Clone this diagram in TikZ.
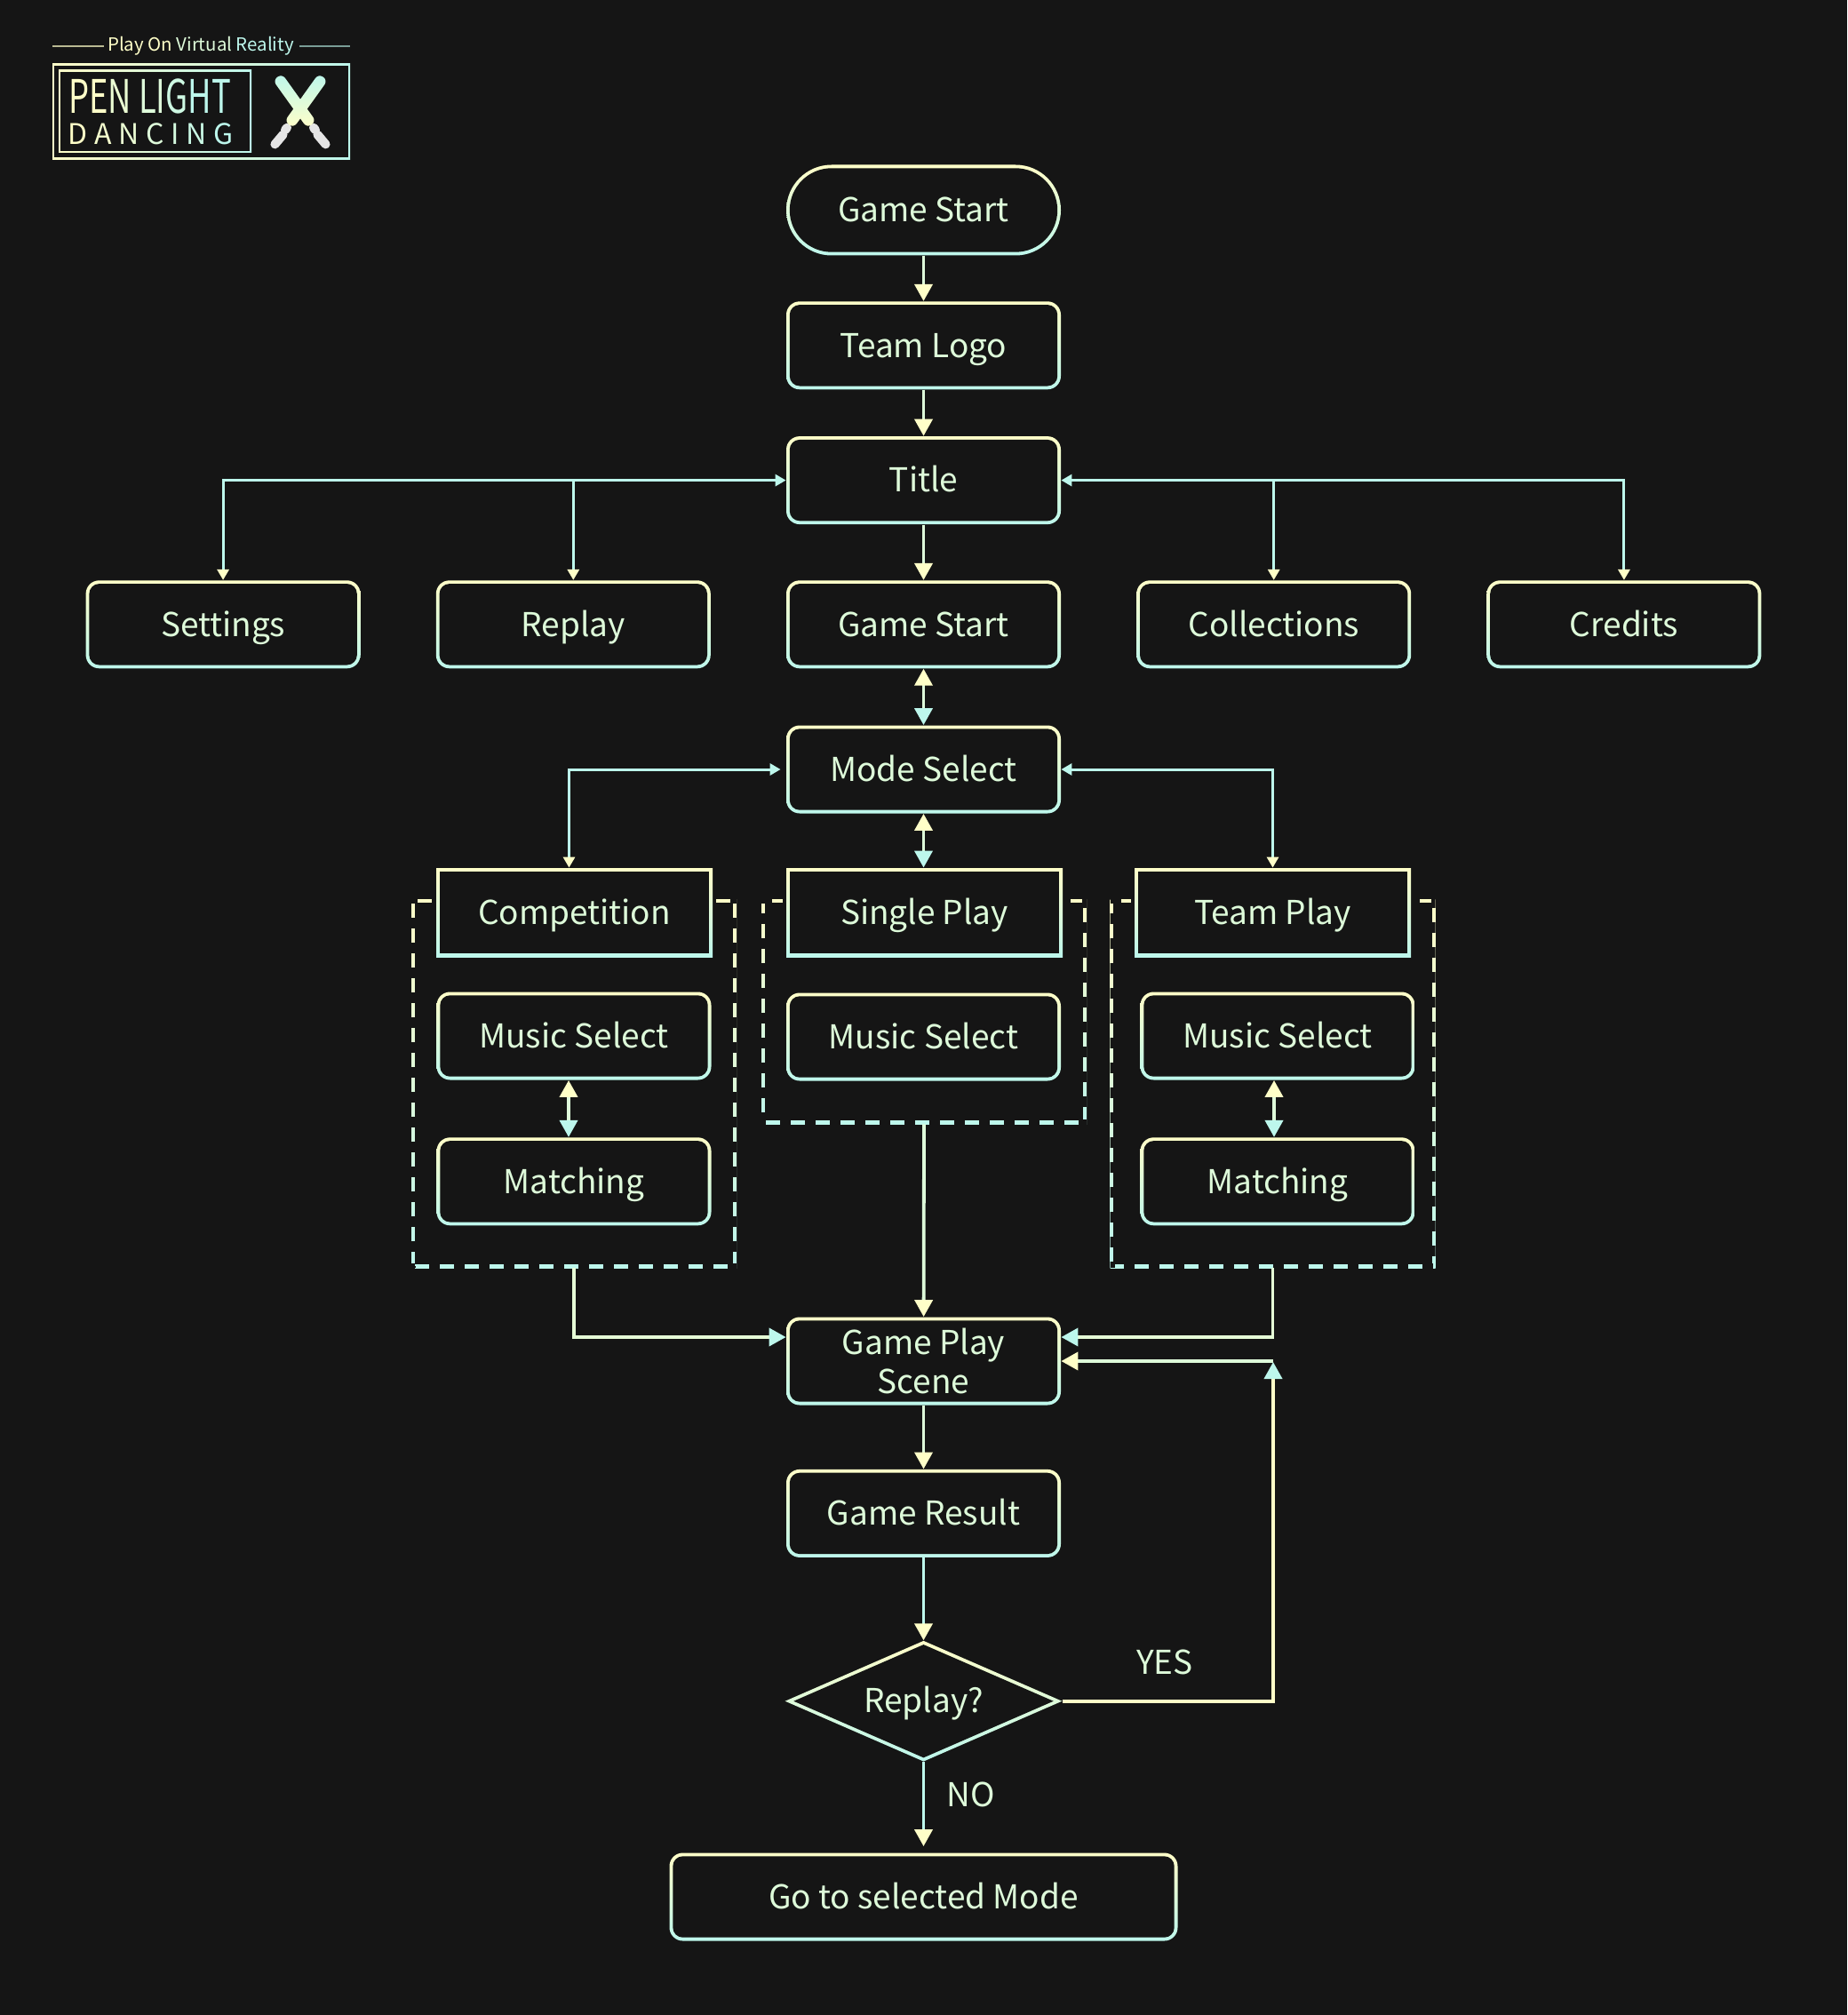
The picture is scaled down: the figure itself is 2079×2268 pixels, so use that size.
\documentclass[tikz,border=0pt]{standalone}
\usepackage{fontspec}
\setmainfont{Noto Sans CJK KR}
\usetikzlibrary{positioning,shapes.geometric,arrows.meta}

\definecolor{bgc}{HTML}{151515}
\definecolor{yl}{HTML}{FFFFC8}
\definecolor{aq}{HTML}{BDF7EC}
\colorlet{txtc}{yl!50!aq}
\newcommand{\pb}{path picture bounding box}
\newcommand{\bodyfont}{\fontsize{18.5}{21.7}\selectfont}

\tikzset{
	hollow/.style 2 args={path picture={\fill[bgc,rounded corners=#2]
		([shift={(#1,#1)}]\pb.south west) rectangle ([shift={(-#1,-#1)}]\pb.north east);}},
	flowbox/.style={minimum width=154.5pt, minimum height=49.5pt, inner sep=0pt, rounded corners=7.5pt,
		top color=yl, bottom color=aq, hollow={1.9pt}{5.6pt}, text=txtc, font=\bodyfont, align=center,
		text height=17pt, text depth=3.8pt},
	pill/.style={flowbox, minimum height=51pt, rounded corners=25.5pt, hollow={1.9pt}{23.6pt}},
	headbox/.style={flowbox, minimum width=155.5pt, minimum height=50pt, rounded corners=0pt,
		hollow={1.9pt}{0pt}, preaction={draw=bgc, line width=4pt}},
	groupbox/.style={minimum width=183pt, inner sep=0pt, top color=yl, bottom color=aq,
		path picture={\fill[bgc] ([shift={(1.8pt,1.8pt)}]\pb.south west) rectangle ([shift={(-1.8pt,-1.8pt)}]\pb.north east);
			\draw[bgc, line width=5pt, dash pattern=on 6pt off 8pt, dash phase=#1] (\pb.south west) rectangle (\pb.north east);}},
	ask/.style={diamond, aspect=2.32, minimum width=156pt, minimum height=68pt, inner sep=0pt,
		top color=yl, bottom color=aq, text=txtc, font=\bodyfont, text height=17pt, text depth=3.8pt,
		path picture={\fill[bgc] ([xshift=4.8pt]\pb.west) -- ([yshift=-2.1pt]\pb.north)
			-- ([xshift=-4.8pt]\pb.east) -- ([yshift=2.1pt]\pb.south) -- cycle;}},
	flow/.style 2 args={draw=#1, line width=1.9pt, -{Triangle[length=9.5pt,width=10pt,color=#2]}},
	both/.style 2 args={draw=yl!50!aq, line width=1.9pt,
		{Triangle[length=9.5pt,width=10pt,color=#1]}-{Triangle[length=9.5pt,width=10pt,color=#2]}},
	fan/.style 2 args={draw=#1, line width=1.5pt, -{Triangle[length=6pt,width=6.5pt,color=#2]}},
	fanboth/.style 2 args={draw=aq, line width=1.5pt,
		{Triangle[length=6pt,width=6.5pt,color=#1]}-{Triangle[length=6pt,width=6.5pt,color=#2]}},
	lbl/.style={inner sep=0pt, text=txtc, font=\bodyfont},
	saber/.style={minimum width=6.3pt, minimum height=33pt, inner sep=0pt, rounded corners=3pt, top color=aq, bottom color=yl},
	hilt/.style={inner sep=0pt, rounded corners=2.4pt, fill=black!10},
	logoframe/.style={inner sep=0pt, left color=yl, right color=aq, hollow={0.9pt}{0pt}},
}

\begin{document}
\begin{tikzpicture}[x=0.5pt,y=-0.5pt]

	\path[use as bounding box, fill=bgc] (0,0) rectangle (2079,2268);

	% logo
	\node[inner sep=0pt, font=\fontsize{10.2}{12}\selectfont] (tag) at (226,51.5)
		{{\color{yl}Play On }{\color{yl!50!aq}Virtual }{\color{aq}Reality}};
	\draw[yl!70!bgc, line width=0.6pt] (59,52) -- (117,52);
	\draw[aq!60!bgc, line width=0.6pt] (337,52) -- (394,52);
	\node[logoframe, minimum width=167.5pt, minimum height=53.7pt] (logoOuter) at (226.5,125.5) {};
	\node[logoframe, minimum width=108.5pt, minimum height=46.5pt] (logoInner) at (174.5,125.5) {};
	\node[inner sep=0pt, font=\fontsize{26}{26}\selectfont] (logoPen) at (168.5,108)
		{\scalebox{0.7}[1]{{\color{yl}PE}{\color{yl!70!aq}N }{\color{yl!50!aq}LI}{\color{yl!25!aq}G}{\color{aq}HT}}};
	\node[inner sep=0pt, font=\fontsize{16}{16}\selectfont] (logoDancing) at (169.5,151)
		{\foreach \ltr/\mx in {D/100,A/85,N/70,C/50,I/35,N/20,G/0}{{\color{yl!\mx!aq}\ltr}\hspace{3.8pt}}};
	\node[hilt, minimum width=5pt, minimum height=6.5pt, rotate=40] (hiltA) at (354,145) {};
	\node[hilt, minimum width=5pt, minimum height=6.5pt, rotate=-40] (hiltB) at (322,145) {};
	\node[hilt, minimum width=5pt, minimum height=12pt, rotate=40] (gripA) at (362,157) {};
	\node[hilt, minimum width=5pt, minimum height=12pt, rotate=-40] (gripB) at (314,157) {};
	\node[saber, rotate=35.6] (saberA) at (331.5,113.5) {};
	\node[saber, rotate=-35.6] (saberB) at (344.5,113.5) {};

	% main column
	\node[pill] (start) at (1039.5,236.5) {Game Start};
	\node[flowbox, below=25.5pt of start] (logo) {Team Logo};
	\node[flowbox, below=26pt of logo] (title) {Title};
	\node[flowbox, below=31.2pt of title] (play) {Game Start};
	\node[flowbox, left=42.2pt of play] (replay) {Replay};
	\node[flowbox, left=42.2pt of replay] (settings) {Settings};
	\node[flowbox, right=42.2pt of play] (collections) {Collections};
	\node[flowbox, right=42.2pt of collections] (credits) {Credits};
	\node[flowbox, below=31.7pt of play] (mode) {Mode Select};

	% mode groups
	\node[groupbox=4.9pt, minimum height=207.5pt] (compGroup) at (646,1219.5) {};
	\node[groupbox=13.5pt, minimum height=126.5pt] (singleGroup) at (1040,1138.5) {};
	\node[groupbox=2.5pt, minimum height=207.5pt] (teamGroup) at (1432.5,1219.5) {};
	\node[headbox] (compHead) at (646.5,1027) {Competition};
	\node[headbox] (singleHead) at (1040.5,1027) {Single Play};
	\node[headbox] (teamHead) at (1432.5,1027) {Team Play};
	\node[flowbox] (compMusic) at (646,1166) {Music Select};
	\node[flowbox] (singleMusic) at (1039.5,1167) {Music Select};
	\node[flowbox] (teamMusic) at (1438,1166) {Music Select};
	\node[flowbox, below=32pt of compMusic] (compMatch) {Matching};
	\node[flowbox, below=32pt of teamMusic] (teamMatch) {Matching};

	% result
	\node[flowbox, text height=, text depth=] (scene) at (1039.5,1532) {Game Play\\Scene};
	\node[flowbox, below=35.8pt of scene] (result) {Game Result};
	\node[ask, below=46.5pt of result] (again) {Replay?};
	\node[flowbox, minimum width=286pt, below=51pt of again] (goto) {Go to selected Mode};
	\node[lbl] (yes) at (1311,1871) {YES};
	\node[lbl] (no) at (1093,2020) {NO};
	\coordinate (loopTop) at (1433,1532);

	% arrows
	\draw[flow={aq!50!yl}{yl}] (start) -- (logo);
	\draw[flow={aq!50!yl}{yl}] (logo) -- (title);
	\draw[flow={aq!50!yl}{yl}] (title) -- (play);
	\draw[fanboth={yl}{aq}] (settings.north) |- (title.west);
	\draw[fan={aq}{yl}] (title.west -| replay.north) -- (replay.north);
	\draw[fanboth={yl}{aq}] (credits.north) |- (title.east);
	\draw[fan={aq}{yl}] (title.east -| collections.north) -- (collections.north);
	\draw[both={yl}{aq}] (play) -- (mode);
	\draw[fanboth={yl}{aq}, shorten >=3pt] ([xshift=-3pt]compHead.north) |- (mode.west);
	\draw[fanboth={yl}{aq}] (teamHead.north) |- (mode.east);
	\draw[both={yl}{aq}] (mode) -- (mode |- singleHead.north);
	\draw[both={yl}{aq}] ([xshift=-3pt]compMusic.south) -- ([xshift=-3pt]compMatch.north);
	\draw[both={yl}{aq}] ([xshift=-2pt]teamMusic.south) -- ([xshift=-2pt]teamMatch.north);
	\draw[flow={yl!60!aq}{aq}] (compGroup.south) |- ([yshift=13.5pt]scene.west);
	\draw[flow={yl!60!aq}{aq}] (teamGroup.south) |- ([yshift=13.5pt]scene.east);
	\draw[flow={aq!50!yl}{yl}] (singleGroup.south) -- (scene);
	\draw[flow={yl!50!aq}{yl}] (scene) -- (result);
	\draw[flow={aq}{yl}] (result) -- (again);
	\draw[flow={yl}{aq}] (again.east) -| ([yshift=-0.5pt]loopTop);
	\draw[flow={yl!50!aq}{yl}] (loopTop) -- (scene.east);
	\draw[flow={aq}{yl}, shorten >=3.5pt] (again) -- (goto);

\end{tikzpicture}
\end{document}
